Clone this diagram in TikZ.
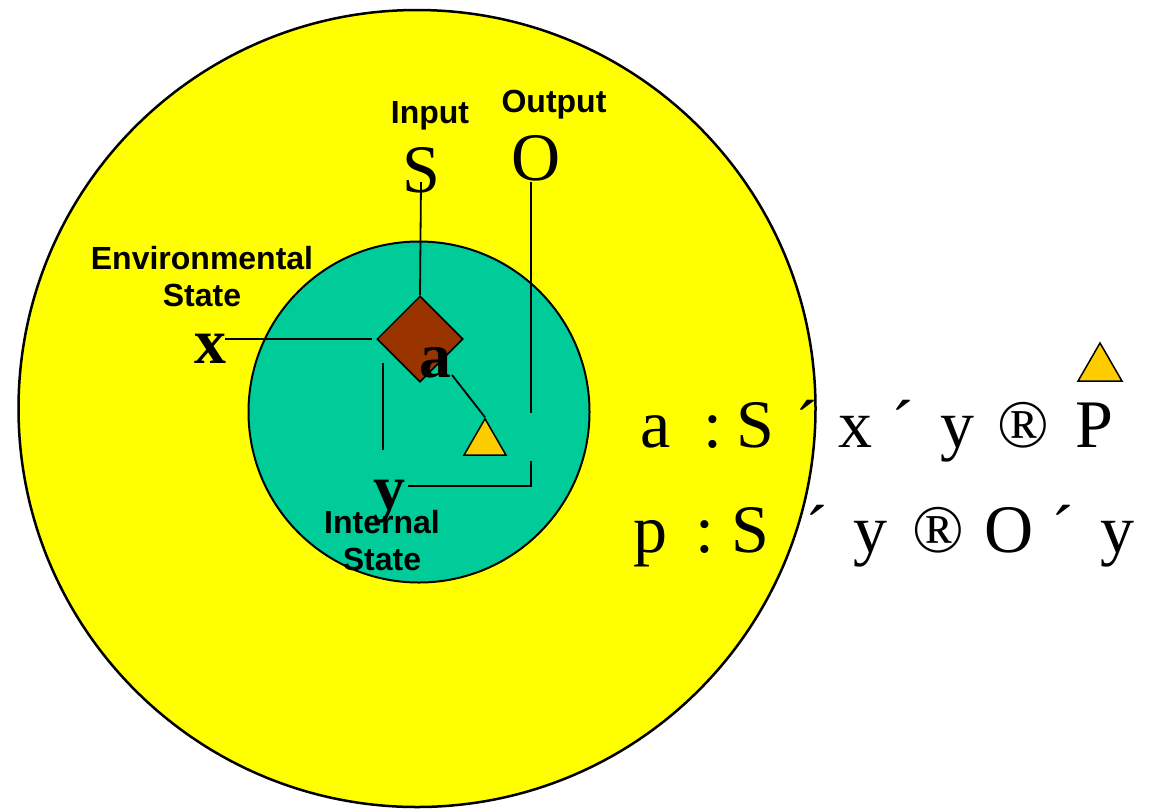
\documentclass[tikz,border=0pt]{standalone}
\usepackage{fontspec}
\setmainfont{Liberation Serif}
\newfontfamily\arialfont{Liberation Sans}
\usetikzlibrary{shapes.geometric}
\definecolor{outeryellow}{HTML}{FFFF00}
\definecolor{innergreen}{HTML}{00CC99}
\definecolor{diambrown}{HTML}{993300}
\definecolor{triorange}{HTML}{FFCC00}
\newcommand\gc[2]{\makebox[0pt][l]{\hspace*{#1pt}\makebox[0pt][c]{#2}}}
\tikzset{
  lbl/.style={font=\arialfont\bfseries\fontsize{32}{37}\selectfont, inner sep=0pt, align=center},
  big/.style={font=\fontsize{68}{70}\selectfont, inner sep=0pt},
  bigb/.style={font=\bfseries\fontsize{64}{66}\selectfont, inner sep=0pt},
  wire/.style={draw=black, line width=1.8pt},
  tri/.style={regular polygon, regular polygon sides=3, draw=black, line width=1.5pt, fill=triorange, minimum size=48.5pt, inner sep=0pt},
}
\begin{document}
\begin{tikzpicture}[x=1pt,y=-1pt]
\useasboundingbox (0,0) rectangle (1155,809);
% circles
\node[circle, draw=black, line width=2.5pt, fill=outeryellow, minimum size=797pt, inner sep=0pt] (env) at (417,408.5) {};
\node[circle, draw=black, line width=2pt, fill=innergreen, minimum size=341pt, inner sep=0pt] (agent) at (419,412) {};
% symbols
\node[big, anchor=base] (S) at (421,192) {S};
\node[big, anchor=base] (O) at (536,180) {O};
\node[bigb, anchor=base] (X) at (210,363) {x};
\node[bigb, anchor=base] (Y) at (389,509) {y};
% labels
\node[lbl, anchor=base] (inlbl) at (430,123) {Input};
\node[lbl, anchor=base] (outlbl) at (554,112) {Output};
\node[lbl, anchor=base] (envlbl) at (202,306) {Environmental\\State};
\node[lbl, anchor=base] (intlbl) at (382,570) {Internal\\State};
% alpha diamond
\node[diamond, aspect=1, draw=black, line width=1.5pt, fill=diambrown, minimum width=86pt, minimum height=86pt, inner sep=0pt] (alpha) at (420,339) {};
\node[bigb, anchor=base] (A) at (435,377) {a};
\node[tri] (T) at (485,443) {};
% connectors
\coordinate (sTop) at (421,182);
\coordinate (oTop) at (531,182);
\coordinate (oMid) at (531,413);
\coordinate (oLow) at (531,461);
\coordinate (oCorner) at (531,486);
\coordinate (yEnd) at (408,486);
\coordinate (xEnd) at (225,339);
\coordinate (xDiam) at (372,339);
\coordinate (vTop) at (383,363);
\coordinate (vBot) at (383,450);
\coordinate (aFoot) at (452,375);
\draw[wire] (sTop) -- (alpha.north);
\draw[wire] (xEnd) -- (xDiam);
\draw[wire] (vTop) -- (vBot);
\draw[wire] (aFoot) -- (T.corner 1);
\draw[wire] (oTop) -- (oMid);
\draw[wire] (oLow) -- (oCorner) -- (yEnd);
% equations
\node[big, anchor=base west] (eq1) at (630,447) {\gc{25}{a}\gc{83}{:}\gc{125}{S}\gc{177}{´}\gc{225}{x}\gc{273}{´}\gc{327}{y}\gc{393}{®}\gc{464}{P}\hspace*{500pt}};
\node[big, anchor=base west] (eq2) at (630,552) {\gc{20}{p}\gc{75}{:}\gc{120}{S}\gc{187}{´}\gc{240}{y}\gc{308}{®}\gc{379}{O}\gc{433}{´}\gc{487}{y}\hspace*{510pt}};
\node[tri, minimum size=50.8pt] (T2) at (1100,368.4) {};
\end{tikzpicture}
\end{document}
